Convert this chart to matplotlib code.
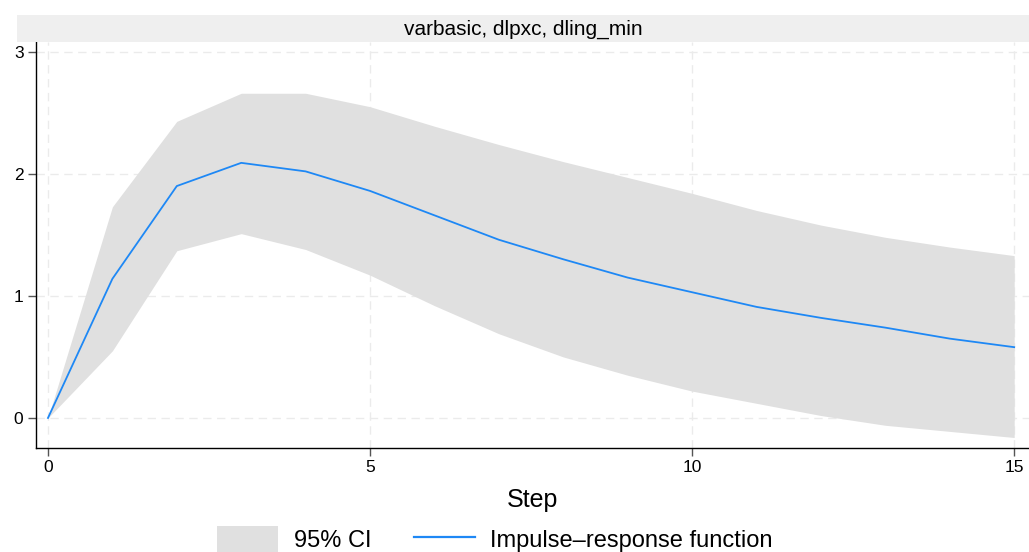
import matplotlib
matplotlib.use("Agg")
import matplotlib.pyplot as plt
from matplotlib.patches import Patch, Rectangle
from matplotlib.lines import Line2D

plt.rcParams['font.family'] = ['Liberation Sans', 'DejaVu Sans']

steps = list(range(16))
irf = [0.0, 1.14, 1.90, 2.09, 2.02, 1.86, 1.66, 1.46, 1.30, 1.15, 1.03, 0.91, 0.82, 0.74, 0.65, 0.58]
upper = [0.0, 1.73, 2.43, 2.66, 2.66, 2.55, 2.39, 2.24, 2.10, 1.97, 1.84, 1.70, 1.58, 1.48, 1.40, 1.33]
lower = [0.0, 0.55, 1.37, 1.51, 1.38, 1.17, 0.92, 0.69, 0.50, 0.35, 0.22, 0.12, 0.02, -0.06, -0.11, -0.16]
title = "varbasic, dlpxc, dling_min"
xticks = [0, 5, 10, 15]
yticks = [0, 1, 2, 3]

W, H = 1029, 552
fig = plt.figure(figsize=(W / 100, H / 100), dpi=100)
ax = fig.add_axes([36 / W, 104 / H, (W - 36) / W, (448 - 42) / H])

ci_color = '#e0e0e0'
line_color = '#1e88f5'

ax.fill_between(steps, lower, upper, color=ci_color, linewidth=0, zorder=2)
ax.plot(steps, irf, color=line_color, linewidth=1.3, zorder=3)

ax.set_xlim(-0.186, 15.23)
ax.set_ylim(-0.246, 3.08)
ax.set_xticks(xticks)
ax.set_yticks(yticks)
ax.grid(True, linestyle=(0, (6, 4)), color='#ebebeb', linewidth=1.0, zorder=1)
for s in ['top', 'right']:
    ax.spines[s].set_visible(False)
for s in ['left', 'bottom']:
    ax.spines[s].set_color('black')
    ax.spines[s].set_linewidth(1.0)
ax.tick_params(axis='both', colors='#555555', labelcolor='black', labelsize=12.5, length=6, width=1.0)
ax.tick_params(axis='x', pad=3)
ax.tick_params(axis='y', pad=3)
ax.set_xlabel("Step", fontsize=18, labelpad=9)

# header strip
strip = Rectangle((17 / W, 1 - 42 / H), (W - 17) / W, 27 / H, transform=fig.transFigure,
                  facecolor='#efefef', edgecolor='none', zorder=0)
fig.patches.append(strip)
fig.text((17 + W) / 2 / W, 1 - 29 / H, title, ha='center', va='center', fontsize=15)

handles = [Patch(facecolor=ci_color, edgecolor='none', label='95% CI'),
           Line2D([0], [0], color=line_color, linewidth=1.6, label='Impulse\u2013response function')]
fig.legend(handles=handles, loc='center', bbox_to_anchor=(495 / W, 1 - 539 / H), ncol=2,
           frameon=False, fontsize=17, handlelength=2.6, handleheight=1.3, columnspacing=1.8,
           handletextpad=0.65, borderpad=0.2)

fig.savefig("out.png", dpi=100, facecolor='white')
